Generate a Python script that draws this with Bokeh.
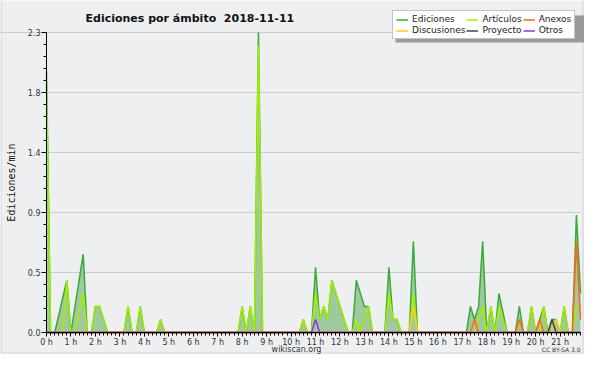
from math import pi
import numpy as np
from bokeh.plotting import figure
from bokeh.models import (ColumnDataSource, FixedTicker, Range1d, Label, Legend,
                          LegendItem, BoxAnnotation)
from bokeh.embed import file_html
from bokeh.resources import INLINE

# ---- data: edits per minute, one value per 10-minute slot (0:00 .. 21:50) ----
ediciones = [
    2.0, 0, 0, 0.13, 0.27, 0.4,      # 0 h
    0, 0.2, 0.4, 0.6, 0, 0,          # 1 h
    0.2, 0.2, 0.1, 0, 0, 0,          # 2 h
    0, 0, 0.2, 0, 0, 0.2,            # 3 h
    0, 0, 0, 0, 0.1, 0,              # 4 h
    0, 0, 0, 0, 0, 0,                # 5 h
    0, 0, 0, 0, 0, 0,                # 6 h
    0, 0, 0, 0, 0, 0,                # 7 h
    0.2, 0, 0.2, 0, 2.3, 0,          # 8 h
    0, 0, 0, 0, 0, 0,                # 9 h
    0, 0, 0, 0.1, 0, 0,              # 10 h
    0.5, 0.1, 0.2, 0.1, 0.4, 0.3,    # 11 h
    0.2, 0.1, 0, 0, 0.4, 0.3,        # 12 h
    0.2, 0.2, 0, 0, 0, 0,            # 13 h
    0.5, 0.1, 0.1, 0, 0, 0,          # 14 h
    0.7, 0, 0, 0, 0, 0,              # 15 h
    0, 0, 0, 0, 0, 0,                # 16 h
    0, 0, 0.2, 0.1, 0.2, 0.7,        # 17 h
    0, 0.2, 0, 0.3, 0.15, 0,         # 18 h
    0, 0, 0.2, 0, 0, 0.2,            # 19 h
    0, 0.1, 0.2, 0, 0.1, 0.1,        # 20 h
    0, 0.2, 0, 0, 0.9, 0.3,          # 21 h
]
articulos = [
    1.9, 0, 0, 0, 0, 0.4,
    0, 0, 0.15, 0.3, 0, 0,
    0.2, 0.2, 0.1, 0, 0, 0,
    0, 0, 0.2, 0, 0, 0.2,
    0, 0, 0, 0, 0.1, 0,
    0, 0, 0, 0, 0, 0,
    0, 0, 0, 0, 0, 0,
    0, 0, 0, 0, 0, 0,
    0.2, 0, 0.2, 0, 2.2, 0,
    0, 0, 0, 0, 0, 0,
    0, 0, 0, 0.1, 0, 0,
    0.3, 0.1, 0.2, 0.1, 0.4, 0.3,
    0.2, 0.1, 0, 0, 0.1, 0,
    0.1, 0.2, 0, 0, 0, 0,
    0.3, 0.1, 0.1, 0, 0, 0,
    0.3, 0, 0, 0, 0, 0,
    0, 0, 0, 0, 0, 0,
    0, 0, 0, 0, 0.1, 0.2,
    0, 0.2, 0, 0.2, 0.1, 0,
    0, 0, 0.1, 0, 0, 0.2,
    0, 0, 0.2, 0, 0, 0,
    0, 0.2, 0, 0, 0.2, 0.2,
]
anexos = [
    0, 0, 0, 0, 0, 0,
    0, 0, 0, 0, 0, 0,
    0, 0, 0, 0, 0, 0,
    0, 0, 0, 0, 0, 0,
    0, 0, 0, 0, 0, 0,
    0, 0, 0, 0, 0, 0,
    0, 0, 0, 0, 0, 0,
    0, 0, 0, 0, 0, 0,
    0, 0, 0, 0, 0, 0,
    0, 0, 0, 0, 0, 0,
    0, 0, 0, 0, 0, 0,
    0, 0, 0, 0, 0, 0,
    0, 0, 0, 0, 0, 0,
    0, 0, 0, 0, 0, 0,
    0, 0, 0, 0, 0, 0,
    0, 0, 0, 0, 0, 0,
    0, 0, 0, 0, 0, 0,
    0, 0, 0, 0.1, 0, 0,
    0, 0, 0, 0, 0, 0,
    0, 0, 0.1, 0, 0, 0,
    0, 0.1, 0, 0, 0, 0,
    0, 0, 0, 0, 0.7, 0.1,
]
discusiones = [
    0, 0, 0, 0, 0, 0,
    0, 0, 0, 0, 0, 0,
    0, 0, 0, 0, 0, 0,
    0, 0, 0, 0, 0, 0,
    0, 0, 0, 0, 0, 0,
    0, 0, 0, 0, 0, 0,
    0, 0, 0, 0, 0, 0,
    0, 0, 0, 0, 0, 0,
    0, 0, 0, 0, 0, 0,
    0, 0, 0, 0, 0, 0,
    0, 0, 0, 0, 0, 0,
    0, 0, 0, 0, 0, 0,
    0, 0, 0, 0, 0, 0,
    0, 0, 0, 0, 0, 0,
    0, 0, 0, 0, 0, 0,
    0.2, 0, 0, 0, 0, 0,
    0, 0, 0, 0, 0, 0,
    0, 0, 0, 0, 0, 0,
    0, 0, 0, 0, 0, 0,
    0, 0, 0, 0, 0, 0,
    0, 0, 0, 0, 0, 0.1,
    0, 0, 0, 0, 0, 0,
]
proyecto = [
    0, 0, 0, 0, 0, 0,
    0, 0, 0, 0, 0, 0,
    0, 0, 0, 0, 0, 0,
    0, 0, 0, 0, 0, 0,
    0, 0, 0, 0, 0, 0,
    0, 0, 0, 0, 0, 0,
    0, 0, 0, 0, 0, 0,
    0, 0, 0, 0, 0, 0,
    0, 0, 0, 0, 0, 0,
    0, 0, 0, 0, 0, 0,
    0, 0, 0, 0, 0, 0,
    0, 0, 0, 0, 0, 0,
    0, 0, 0, 0, 0, 0,
    0, 0, 0, 0, 0, 0,
    0, 0, 0, 0, 0, 0,
    0, 0, 0, 0, 0, 0,
    0, 0, 0, 0, 0, 0,
    0, 0, 0, 0, 0, 0,
    0, 0, 0, 0, 0, 0,
    0, 0, 0, 0, 0, 0,
    0, 0, 0, 0, 0.1, 0,
    0, 0, 0, 0, 0, 0,
]
otros = [
    0, 0, 0, 0, 0, 0,
    0, 0, 0, 0, 0, 0,
    0, 0, 0, 0, 0, 0,
    0, 0, 0, 0, 0, 0,
    0, 0, 0, 0, 0, 0,
    0, 0, 0, 0, 0, 0,
    0, 0, 0, 0, 0, 0,
    0, 0, 0, 0, 0, 0,
    0, 0, 0, 0, 0, 0,
    0, 0, 0, 0, 0, 0,
    0, 0, 0, 0, 0, 0,
    0.1, 0, 0, 0, 0, 0,
    0, 0, 0, 0, 0, 0,
    0, 0, 0, 0, 0, 0,
    0, 0, 0, 0, 0, 0,
    0, 0, 0, 0, 0, 0,
    0, 0, 0, 0, 0, 0,
    0, 0, 0, 0, 0, 0,
    0, 0, 0, 0, 0, 0,
    0, 0, 0, 0, 0, 0,
    0, 0, 0, 0, 0, 0,
    0, 0, 0, 0, 0, 0,
]
hour_ticks = [0, 1, 2, 3, 4, 5, 6, 7, 8, 9, 10, 11, 12, 13, 14, 15, 16, 17, 18, 19, 20, 21]
hour_labels = ["0 h", "1 h", "2 h", "3 h", "4 h", "5 h", "6 h", "7 h", "8 h", "9 h", "10 h",
               "11 h", "12 h", "13 h", "14 h", "15 h", "16 h", "17 h", "18 h", "19 h", "20 h", "21 h"]
y_ticks = [0, 0.46, 0.92, 1.38, 1.84, 2.3]
y_labels = ["0.0", "0.5", "0.9", "1.4", "1.8", "2.3"]

n = len(ediciones)
hours = np.arange(n) / 6.0
x_end = (n - 1) / 6.0
y_end = 2.3

# canvas geometry (px): data area from x=46..580, y=32..332
W, H = 584, 354
FL, FR, FT, FB = 46, 580, 32, 332
xs = (FR - FL) / x_end
ys = (FB - FT) / y_end
def X(cx):
    return (cx - FL) / xs
def Y(cy):
    return (FB - cy) / ys

src = ColumnDataSource(dict(x=hours, ed=ediciones, ar=articulos, an=anexos,
                            di=discusiones, pr=proyecto, ot=otros,
                            zero=np.zeros(n)))

FONT = "DejaVu Sans"
p = figure(width=W, height=H, output_backend="svg", toolbar_location=None,
           x_range=Range1d(X(0), X(W)), y_range=Range1d(Y(H), Y(0)),
           min_border=0)
p.background_fill_color = "#eeeff1"
p.border_fill_color = "#eeeeee"
p.outline_line_color = None

# axes drawn at the data origin
p.xaxis.fixed_location = 0
p.yaxis.fixed_location = 0
p.xaxis.bounds = (0, x_end)
p.yaxis.bounds = (0, y_end)
p.xaxis.ticker = FixedTicker(ticks=hour_ticks, minor_ticks=list(hours))
p.xaxis.major_label_overrides = {t: l for t, l in zip(hour_ticks, hour_labels)}
p.yaxis.ticker = FixedTicker(ticks=y_ticks, minor_ticks=list(np.arange(0, 2.31, 0.092)))
p.yaxis.major_label_overrides = {t: l for t, l in zip(y_ticks, y_labels)}
for ax in (p.xaxis[0], p.yaxis[0]):
    ax.axis_line_color = "black"
    ax.major_tick_line_color = "black"
    ax.minor_tick_line_color = "black"
    ax.major_tick_in = 0
    ax.minor_tick_in = 0
    ax.major_label_text_font = FONT
    ax.major_label_text_font_size = "8px"
    ax.major_label_text_color = "#333333"
    ax.major_label_standoff = 1
p.xaxis.major_tick_out = 4
p.xaxis.minor_tick_out = 3
p.yaxis.major_tick_out = 5
p.yaxis.minor_tick_out = 3
p.xgrid.visible = False
p.ygrid.visible = False

# horizontal grid lines at the y ticks, limited to the data area
grid_x0 = [0, 0, 0, 0, 0, X(0)]
p.segment(x0=grid_x0, x1=[x_end] * len(y_ticks), y0=y_ticks, y1=y_ticks,
          line_color="#cccccc", line_width=1, level="underlay")

# areas and lines
p.varea(x="x", y1="zero", y2="ed", source=src, fill_color="#a0c9a0")
r_ed = p.line("x", "ed", source=src, line_color="#3aaa3a", line_width=1.5)
r_ar = p.line("x", "ar", source=src, line_color="#a6ee00", line_width=1.5)
r_di = p.line("x", "di", source=src, line_color="#ffcc22", line_width=1.5)
r_pr = p.line("x", "pr", source=src, line_color="#444444", line_width=1.5)
r_an = p.line("x", "an", source=src, line_color="#ff6622", line_width=1.5)
r_ot = p.line("x", "ot", source=src, line_color="#8833ee", line_width=1.5)

# outer frame (left, right, bottom edges)
p.add_layout(BoxAnnotation(left=X(0.75), right=X(582.5), top=Y(-10), bottom=Y(352.5),
                           fill_alpha=0, line_color="#b4b4b4", line_width=1.5))

# texts
p.add_layout(Label(x=X(85), y=Y(17.5), text="Ediciones por ámbito\u00a0\u00a02018-11-11",
                   text_font=FONT, text_font_style="bold", text_font_size="11px",
                   text_color="#111111", text_baseline="alphabetic", text_align="left"))
p.add_layout(Label(x=X(11), y=Y((FT + FB) / 2), text="Ediciones/min", angle=pi / 2,
                   text_font="DejaVu Sans Mono", text_font_size="10px", text_color="#111111",
                   text_baseline="middle", text_align="center"))
p.add_layout(Label(x=X(296), y=Y(349), text="wikiscan.org", text_font=FONT,
                   text_font_size="8px", text_color="#333333", text_align="center",
                   text_baseline="alphabetic"))
p.add_layout(Label(x=X(580), y=Y(349), text="CC BY-SA 3.0", text_font=FONT,
                   text_font_size="6px", text_color="#333333", text_align="right",
                   text_baseline="alphabetic"))

# legend with shadow
p.add_layout(BoxAnnotation(left=X(395), right=X(584), top=Y(15), bottom=Y(42),
                           fill_color="#999999", fill_alpha=1, line_color=None))
legend = Legend(items=[
    LegendItem(label="Ediciones", renderers=[r_ed]),
    LegendItem(label="Discusiones", renderers=[r_di]),
    LegendItem(label="Artículos", renderers=[r_ar]),
    LegendItem(label="Proyecto", renderers=[r_pr]),
    LegendItem(label="Anexos", renderers=[r_an]),
    LegendItem(label="Otros", renderers=[r_ot]),
], location=(392, H - 39), orientation="vertical", nrows=2)
legend.label_text_font = FONT
legend.label_text_font_size = "9px"
legend.label_text_color = "#222222"
legend.glyph_width = 12
legend.glyph_height = 9
legend.label_height = 9
legend.label_standoff = 4
legend.spacing = 1
legend.padding = 3
legend.margin = 0
legend.border_line_color = "#888888"
legend.background_fill_color = "white"
legend.background_fill_alpha = 1
p.add_layout(legend)

open("out.html", "w").write(file_html(p, INLINE))
